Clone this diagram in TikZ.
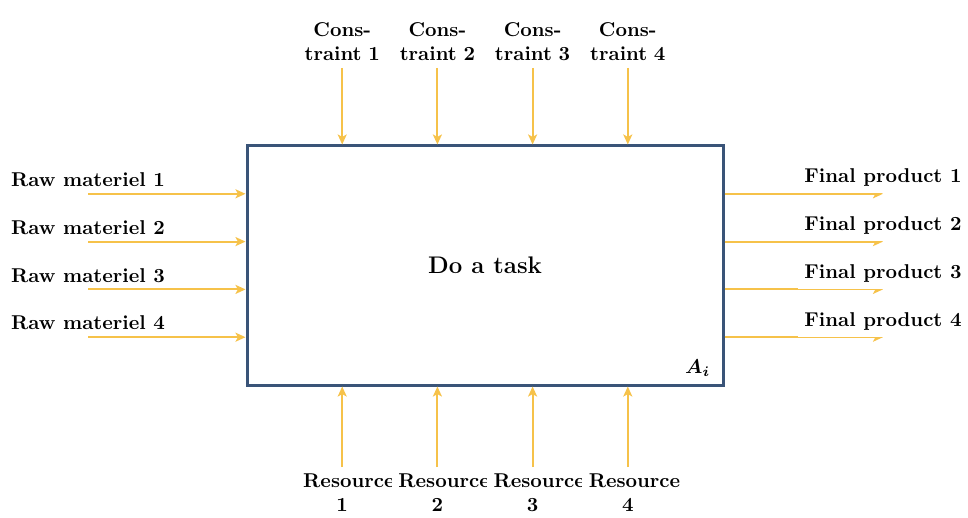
\documentclass[tikz,border=0pt]{standalone}
\usepackage{amsmath}
\usepackage{bm}
\usetikzlibrary{arrows.meta}
\definecolor{flowyellow}{HTML}{F6C24A}
\definecolor{boxblue}{HTML}{3A5478}
\tikzset{
  flow/.style={draw=flowyellow, line width=1pt, -{Stealth[length=5pt,width=4.5pt,inset=1.2pt]}},
  lbl/.style={font=\bfseries, fill=white, inner sep=3.33pt},
  stacked/.style={lbl, text width=39pt, align=center},
  taskbox/.style={draw=boxblue, line width=1.5pt, fill=white, inner sep=0pt,
    minimum width=238pt, minimum height=119.5pt, font=\large\bfseries}
}
\begin{document}
\begin{tikzpicture}[x=0.5pt,y=-0.5pt]
\useasboundingbox (0,0) rectangle (968,518);

% the activity box
\node[taskbox] (task) at (485,265.5) {Do a task};
\node[anchor=south east, inner xsep=7pt, inner ysep=5pt] (ai) at (task.south east) {$\bm{A_i}$};

% inputs on the left
\node[lbl, anchor=south] (rm1) at (88,193.8) {Raw materiel 1};
\node[lbl, anchor=south] (rm2) at (88,241.6) {Raw materiel 2};
\node[lbl, anchor=south] (rm3) at (88,289.4) {Raw materiel 3};
\node[lbl, anchor=south] (rm4) at (88,337.2) {Raw materiel 4};
\foreach \i in {1,...,4}
  \draw[flow] (rm\i.south) -- (rm\i.south -| task.west);

% outputs on the right
\coordinate (fp1e) at (883,193.8);
\coordinate (fp2e) at (883,241.6);
\coordinate (fp3e) at (883,289.4);
\coordinate (fp4e) at (883,337.2);
\foreach \i in {1,...,4}
  \draw[flow] (fp\i e -| task.east) -- (fp\i e);
\node[lbl, anchor=south] (fp1) at (fp1e) {Final product 1};
\node[lbl, anchor=south] (fp2) at (fp2e) {Final product 2};
\node[lbl, anchor=south] (fp3) at (fp3e) {Final product 3};
\node[lbl, anchor=south] (fp4) at (fp4e) {Final product 4};

% controls on top
\node[stacked, anchor=south] (c1) at (342.2,68) {Cons-\\traint 1};
\node[stacked, anchor=south] (c2) at (437.4,68) {Cons-\\traint 2};
\node[stacked, anchor=south] (c3) at (532.6,68) {Cons-\\traint 3};
\node[stacked, anchor=south] (c4) at (627.8,68) {Cons-\\traint 4};
\foreach \i in {1,...,4}
  \draw[flow] (c\i.south) -- (c\i.south |- task.north);

% mechanisms below
\node[stacked, anchor=north] (m1) at (342.2,467) {Resource\\1};
\node[stacked, anchor=north] (m2) at (437.4,467) {Resource\\2};
\node[stacked, anchor=north] (m3) at (532.6,467) {Resource\\3};
\node[stacked, anchor=north] (m4) at (627.8,467) {Resource\\4};
\foreach \i in {1,...,4}
  \draw[flow] (m\i.north) -- (m\i.north |- task.south);
\end{tikzpicture}
\end{document}
